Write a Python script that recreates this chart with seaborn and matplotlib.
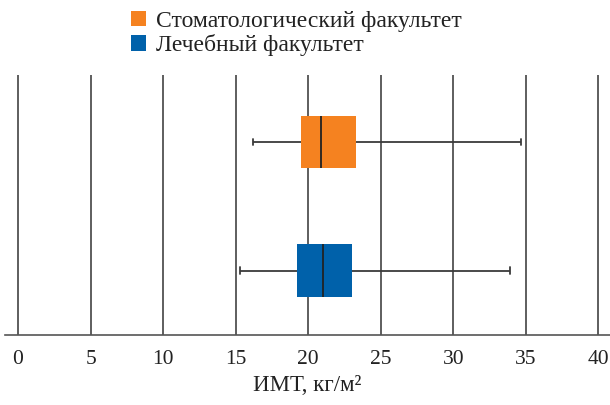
import matplotlib
matplotlib.use("Agg")
import matplotlib.pyplot as plt
from matplotlib.patches import Patch
import seaborn as sns
import pandas as pd

# Five-number summaries of BMI (min, Q1, median, Q3, max) per faculty
faculties = ["Стоматологический факультет", "Лечебный факультет"]
dental_bmi = [16.2, 19.5, 20.9, 23.3, 34.7]
medical_bmi = [15.3, 19.2, 21.0, 23.0, 33.9]
colors = ["#F58220", "#0061AA"]
x_ticks = [0, 5, 10, 15, 20, 25, 30, 35, 40]

df = pd.DataFrame({
    "Факультет": [faculties[0]] * len(dental_bmi) + [faculties[1]] * len(medical_bmi),
    "ИМТ": dental_bmi + medical_bmi,
})

sns.set_theme(style="white")
plt.rcParams["font.family"] = "serif"
plt.rcParams["font.serif"] = ["Liberation Serif", "DejaVu Serif"]

fig = plt.figure(figsize=(6.1, 4.05), dpi=100)
ax = fig.add_axes([5 / 610, 1 - 335 / 405, 1 - 5 / 610, 260 / 405])

line_col = "#3a3a3a"
sns.boxplot(
    data=df, x="ИМТ", y="Факультет", hue="Факультет", palette=colors,
    order=faculties, whis=(0, 100), width=0.41, linewidth=1.2,
    saturation=1, legend=False, ax=ax,
    boxprops=dict(edgecolor="none"),
    whiskerprops=dict(color=line_col, linewidth=1.3),
    capprops=dict(color=line_col, linewidth=1.3),
    medianprops=dict(color="#222222", linewidth=1.3),
    zorder=3,
)

# Shorten the whisker caps to small ticks
extremes = {min(dental_bmi), max(dental_bmi), min(medical_bmi), max(medical_bmi)}
for ln in ax.lines:
    xd, yd = list(ln.get_xdata()), list(ln.get_ydata())
    if len(xd) == 2 and xd[0] == xd[1] and any(abs(xd[0] - e) < 1e-9 for e in extremes):
        c = (yd[0] + yd[1]) / 2
        ln.set_ydata([c - 0.025, c + 0.025])

ax.set_xlim(-0.9, 40.8)
ax.set_ylim(1.5, -0.52)
ax.set_xticks(x_ticks)
ax.set_xticklabels([str(t) for t in x_ticks], fontsize=15.5, color="#222222")
ax.set_yticks([])
ax.set_ylabel("")
ax.set_xlabel("ИМТ, кг/м²", fontsize=16.5, color="#222222", labelpad=4)

ax.grid(axis="x", color="#333333", linewidth=1.1, zorder=0)
ax.set_axisbelow(True)
for side in ["top", "left", "right"]:
    ax.spines[side].set_visible(False)
ax.spines["bottom"].set_color("#555555")
ax.spines["bottom"].set_linewidth(1.2)
ax.tick_params(axis="x", direction="out", length=7, width=1.1, color="#444444", pad=4)

handles = [Patch(facecolor=c, edgecolor="none", label=f) for c, f in zip(colors, faculties)]
fig.legend(
    handles=handles, loc="upper left", bbox_to_anchor=(131 / 610, 1 - 10.5 / 405),
    frameon=False, fontsize=17, handlelength=0.64, handleheight=0.64,
    handletextpad=0.42, labelspacing=0.12, borderaxespad=0, borderpad=0,
    labelcolor="#222222",
)

fig.savefig("out.png", dpi=100)
